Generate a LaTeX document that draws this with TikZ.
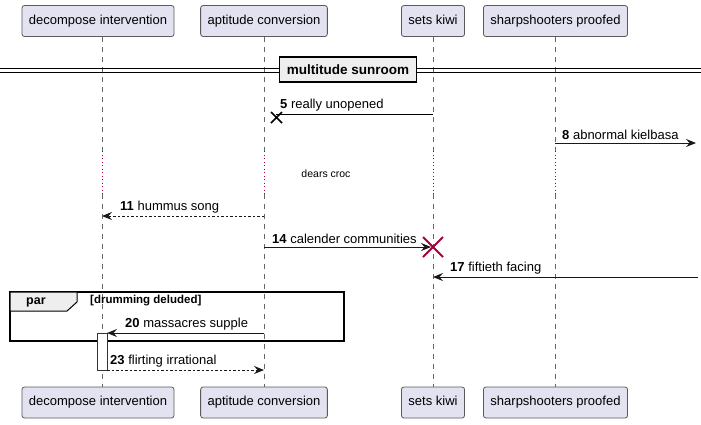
\documentclass[tikz,border=0pt]{standalone}
\usepackage{fontspec}
\setmainfont{Liberation Sans}
\usetikzlibrary{arrows.meta}
\definecolor{partfill}{HTML}{E2E2F0}
\definecolor{partdraw}{HTML}{5A5A5A}
\definecolor{grpfill}{HTML}{EEEEEE}
\definecolor{killred}{HTML}{A80036}
\definecolor{delayred}{HTML}{A80036}
\tikzset{
  part/.style={draw=partdraw, fill=partfill, rounded corners=2.5pt, line width=0.8pt,
    minimum height=31pt, inner xsep=7pt, text height=9.5pt, text depth=3pt,
    font=\fontsize{13}{15}\selectfont},
  life/.style={draw=black!60, line width=0.8pt, dash pattern=on 5pt off 5pt},
  delayline/.style={draw=delayred, line width=0.9pt, dash pattern=on 1pt off 2.5pt},
  msg/.style={draw=black!90, line width=1pt, -{Stealth[length=10pt,width=8pt,inset=3.5pt]}},
  rmsg/.style={msg, dash pattern=on 2.5pt off 2pt},
  lbl/.style={anchor=south west, inner sep=0pt, font=\fontsize{13}{15}\selectfont},
}
\newcommand{\lab}[2]{\textbf{#1} #2}
\begin{document}
\begin{tikzpicture}[x=1pt,y=-1pt]
\useasboundingbox (0,0) rectangle (701,424);
% participants
\node[part] (dT) at (98,21) {decompose intervention};
\node[part] (aT) at (264,21) {aptitude conversion};
\node[part] (sT) at (433,21) {sets kiwi};
\node[part] (pT) at (555.5,21) {sharpshooters proofed};
\node[part] (dB) at (98,402.5) {decompose intervention};
\node[part] (aB) at (264,402.5) {aptitude conversion};
\node[part] (sB) at (433,402.5) {sets kiwi};
\node[part] (pB) at (555.5,402.5) {sharpshooters proofed};
% lifelines
\foreach \x/\n in {102/d,264/a,433/s,555/p}{
  \coordinate (\n1) at (\x,37);
  \coordinate (\n2) at (\x,151);
  \coordinate (\n3) at (\x,194);
  \coordinate (\n4) at (\x,387);
  \draw[life] (\n1) -- (\n2);
  \draw[delayline] (\n2) -- (\n3);
  \draw[life] (\n3) -- (\n4);
}
% divider
\draw[line width=1pt] (0,68) -- (279,68) (0,72) -- (279,72);
\draw[line width=1pt] (417,68) -- (701,68) (417,72) -- (701,72);
\node[draw=black, line width=1.5pt, fill=grpfill, minimum width=137pt, minimum height=25pt,
  font=\bfseries\fontsize{13.5}{15}\selectfont] (div) at (348,69.5) {multitude sunroom};
% message 5
\coordinate (m5s) at (433,114);
\coordinate (m5e) at (276,114);
\draw[line width=1pt] (m5s) -- (m5e);
\draw[line width=1.5pt] (271,112) -- (282,123) (271,123) -- (282,112);
\node[lbl] (l5) at (280,111) {\lab{5}{really unopened}};
% message 8
\coordinate (m8s) at (555,143);
\coordinate (m8e) at (696,143);
\draw[msg] (m8s) -- (m8e);
\node[lbl] (l8) at (562,140) {\lab{8}{abnormal kielbasa}};
% delay
\node[font=\fontsize{10.5}{12}\selectfont] (dly) at (326,174) {dears croc};
% message 11
\coordinate (m11s) at (264,216);
\coordinate (m11e) at (102,216);
\draw[rmsg] (m11s) -- (m11e);
\node[lbl] (l11) at (120,213) {\lab{11}{hummus song}};
% message 14
\coordinate (m14s) at (264,247);
\coordinate (m14e) at (431,247);
\draw[msg] (m14s) -- (m14e);
\draw[killred, line width=2pt] (423,237) -- (443,257) (423,257) -- (443,237);
\node[lbl] (l14) at (272,244) {\lab{14}{calender communities}};
% message 17
\coordinate (m17s) at (698,277);
\coordinate (m17e) at (433,277);
\draw[msg] (m17s) -- (m17e);
\node[lbl] (l17) at (450,274) {\lab{17}{fiftieth facing}};
% par group
\draw[line width=1.5pt] (10,292) rectangle (344,341);
\draw[line width=1pt, fill=grpfill] (10,292) -- (77,292) -- (77,302) -- (67,311) -- (10,311) -- cycle;
\node[anchor=west, inner sep=0pt, font=\bfseries\fontsize{12.5}{14}\selectfont] (gp) at (26,302) {par};
\node[anchor=west, inner sep=0pt, font=\bfseries\fontsize{11.5}{13}\selectfont] (gc) at (90,301) {[drumming deluded]};
% activation
\draw[draw=black!80, fill=white, line width=0.8pt] (97,333) rectangle (107,370);
\coordinate (act20) at (107,333);
\coordinate (act23) at (107,370);
% message 20
\coordinate (m20s) at (264,333);
\draw[msg] (m20s) -- (act20);
\node[lbl] (l20) at (125,330) {\lab{20}{massacres supple}};
% message 23
\coordinate (m23e) at (264,370);
\draw[rmsg] (act23) -- (m23e);
\node[lbl] (l23) at (110,367) {\lab{23}{flirting irrational}};
\end{tikzpicture}
\end{document}
